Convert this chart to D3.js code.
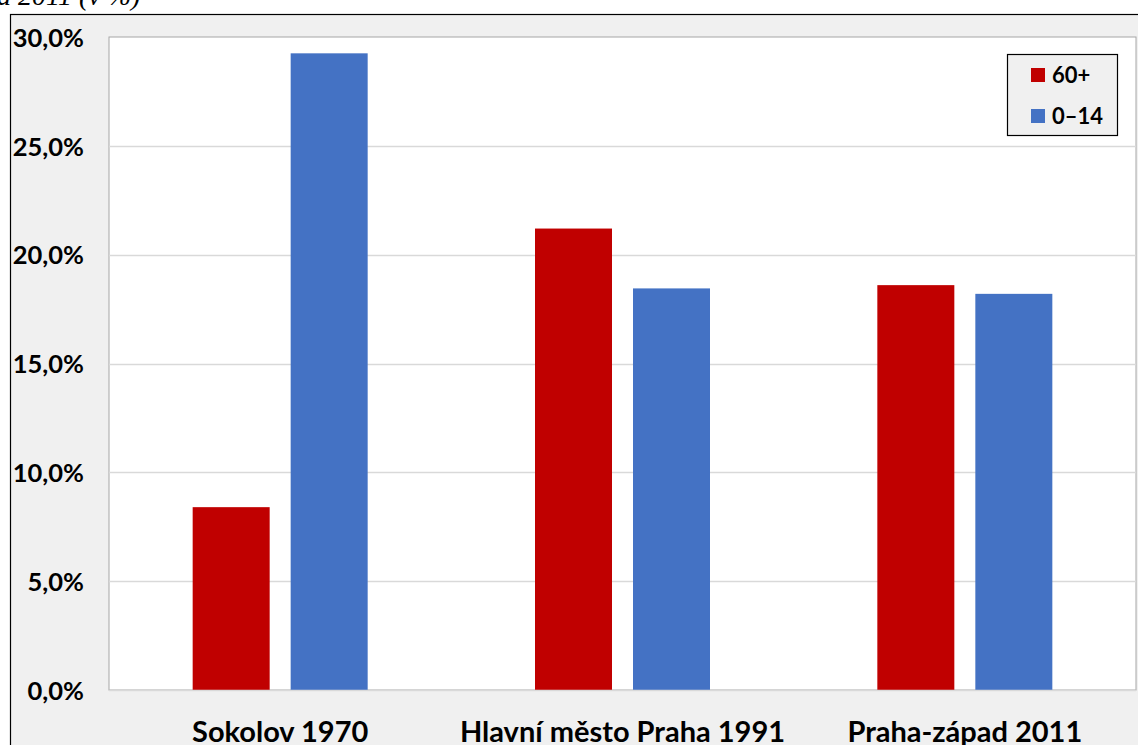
<!DOCTYPE html>
<html><head><meta charset="utf-8">
<script src="https://cdn.jsdelivr.net/npm/d3@7"></script>
<style>body{margin:0;background:#fff;overflow:hidden}</style>
</head><body>
<script>
const categories = ["Sokolov 1970", "Hlavní město Praha 1991", "Praha-západ 2011"];
const seriesNames = ["60+", "0–14"];
const values60 = [8.4, 21.2, 18.6];
const values014 = [29.25, 18.45, 18.2];
const yTicks = [0, 5, 10, 15, 20, 25, 30];
const colors = ["#c00000", "#4472c4"];

const W = 1138, H = 745;
const svg = d3.select("body").append("svg").attr("width", W).attr("height", H);
const font = "Lato, 'Open Sans', sans-serif";

// title fragment
svg.append("text").attr("x", -3).attr("y", 5).text("a 2011 (v %)")
  .attr("font-family", "'Liberation Serif', serif").attr("font-style", "italic").attr("font-size", 28).attr("fill", "#000");

// outer chart frame
svg.append("rect").attr("x", 10.5).attr("y", 14.5).attr("width", W + 20).attr("height", H + 20)
  .attr("fill", "#f0f0f0").attr("stroke", "#000").attr("stroke-width", 1.2);

const plot = {l: 109, r: 1136, t: 37, b: 690};
svg.append("rect").attr("x", plot.l).attr("y", plot.t).attr("width", plot.r - plot.l).attr("height", plot.b - plot.t)
  .attr("fill", "#fff").attr("stroke", "#a6a6a6").attr("stroke-width", 1);

const y = d3.scaleLinear().domain([0, 30]).range([plot.b, plot.t]);
const x0 = d3.scaleBand().domain(categories).range([plot.l, plot.r]);
const barW = 77, gap = 21;

// gridlines
svg.append("g").selectAll("line").data(yTicks.slice(1, -1)).join("line")
  .attr("x1", plot.l).attr("x2", plot.r).attr("y1", d => Math.round(y(d)) + 0.5).attr("y2", d => Math.round(y(d)) + 0.5)
  .attr("stroke", "#d9d9d9").attr("stroke-width", 1.3);

// y axis labels
const yAxis = d3.axisLeft(y).tickValues(yTicks).tickSize(0).tickPadding(0)
  .tickFormat(d => d3.format(".1f")(d).replace(".", ",") + "%");
const gy = svg.append("g").attr("transform", `translate(84,0)`).call(yAxis);
gy.select(".domain").remove();
gy.selectAll("text").attr("font-family", font).attr("font-weight", "bold").attr("font-size", 25.5).attr("fill", "#000").attr("dy", "0.36em");

// bars
const data = categories.map((c, i) => ({c, v: [values60[i], values014[i]]}));
const g = svg.append("g");
data.forEach(d => {
  const cx = x0(d.c) + x0.bandwidth() / 2;
  d.v.forEach((v, j) => {
    const bx = j === 0 ? cx - gap / 2 - barW : cx + gap / 2;
    g.append("rect").attr("x", bx).attr("y", y(v)).attr("width", barW).attr("height", y(0) - y(v)).attr("fill", colors[j]);
  });
});

// baseline
svg.append("line").attr("x1", plot.l).attr("x2", plot.r).attr("y1", plot.b + 0.5).attr("y2", plot.b + 0.5).attr("stroke", "#d9d9d9").attr("stroke-width", 1.3);

// x axis labels
const xAxis = d3.axisBottom(x0).tickSize(0).tickPadding(0);
const gx = svg.append("g").attr("transform", `translate(0,${plot.b})`).call(xAxis);
gx.select(".domain").remove();
gx.selectAll("text").attr("y", 52).attr("dy", 0).attr("font-family", font).attr("font-weight", "bold").attr("font-size", 29).attr("fill", "#000");

// legend
const lg = svg.append("g");
lg.append("rect").attr("x", 1007.5).attr("y", 54.5).attr("width", 110).attr("height", 81).attr("fill", "#f0f0f0").attr("stroke", "#000").attr("stroke-width", 1.2);
seriesNames.forEach((s, i) => {
  const cy = 75 + i * 41;
  lg.append("rect").attr("x", 1031).attr("y", cy - 7).attr("width", 14).attr("height", 14).attr("fill", colors[i]);
  lg.append("text").attr("x", 1052).attr("y", cy).attr("dy", "0.36em").text(s)
    .attr("font-family", font).attr("font-weight", "bold").attr("font-size", 22).attr("fill", "#000");
});
</script>
</body></html>
